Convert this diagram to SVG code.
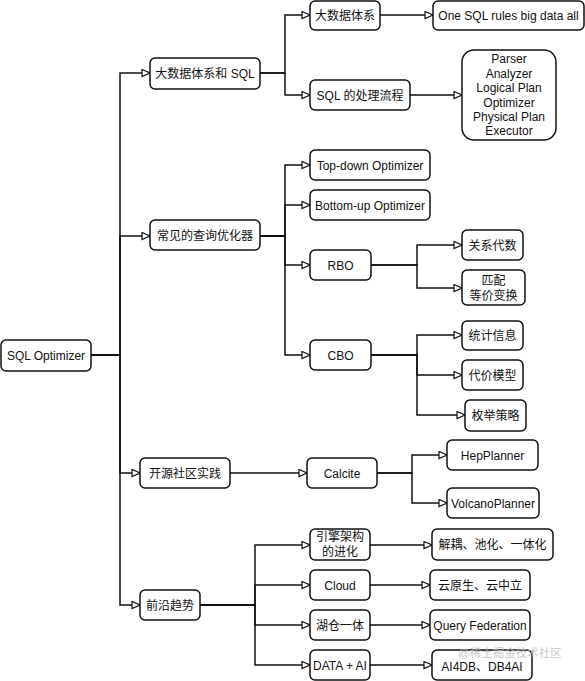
<svg xmlns="http://www.w3.org/2000/svg" width="585" height="681" viewBox="0 0 585 681">
<style>
.box{fill:#fff;stroke:#111;stroke-width:1.5}
.t{font-family:"Liberation Sans","Noto Sans CJK SC",sans-serif;font-size:12px;fill:#111;text-anchor:middle}
.c{fill:none;stroke:#111;stroke-width:1.5;marker-end:url(#arr)}
.wm{font-family:"Liberation Sans","Noto Sans CJK SC",sans-serif;font-size:11.5px;fill:#bbb;opacity:0.8}
</style>
<defs>
<marker id="arr" markerUnits="userSpaceOnUse" markerWidth="10" markerHeight="10" refX="9" refY="4" orient="auto">
<path d="M1,0.5 L9,4 L1,7.5 Z" fill="#fff" stroke="#111" stroke-width="1.2"/>
</marker>
</defs>
<rect width="585" height="681" fill="#fff"/>
<g id="connectors">
<path class="c" d="M91,355 H120 V73 H150"/>
<path class="c" d="M91,355 H120 V236 H150"/>
<path class="c" d="M91,355 H120 V473 H140"/>
<path class="c" d="M91,355 H120 V605 H140"/>
<path class="c" d="M260,73 H285 V15 H310"/>
<path class="c" d="M260,73 H285 V95 H310"/>
<path class="c" d="M380,15 H433"/>
<path class="c" d="M410,95 H462"/>
<path class="c" d="M260,236 H285 V165 H310"/>
<path class="c" d="M260,236 H285 V205 H310"/>
<path class="c" d="M260,236 H285 V265 H310"/>
<path class="c" d="M260,236 H285 V355 H310"/>
<path class="c" d="M371,265 H417 V245 H462"/>
<path class="c" d="M371,265 H417 V288 H462"/>
<path class="c" d="M371,355 H417 V335 H462"/>
<path class="c" d="M371,355 H417 V375 H462"/>
<path class="c" d="M371,355 H417 V415 H465"/>
<path class="c" d="M230,473 H307"/>
<path class="c" d="M377,473 H412 V455 H447"/>
<path class="c" d="M377,473 H412 V503 H447"/>
<path class="c" d="M200,605 H255 V545 H310"/>
<path class="c" d="M200,605 H255 V585 H310"/>
<path class="c" d="M200,605 H255 V625 H310"/>
<path class="c" d="M200,605 H255 V665 H310"/>
<path class="c" d="M370,545 H432"/>
<path class="c" d="M370,585 H430"/>
<path class="c" d="M370,625 H430"/>
<path class="c" d="M370,665 H432"/>
</g>
<g id="n-root"><rect class="box" x="1" y="340" width="90" height="31" rx="5"/><text class="t" x="46" y="359.5">SQL Optimizer</text></g>
<g id="n-bigdata-sql"><rect class="box" x="150" y="58" width="110" height="31" rx="5"/><text class="t" x="205" y="77.5">大数据体系和 SQL</text></g>
<g id="n-common"><rect class="box" x="150" y="220" width="110" height="30" rx="5"/><text class="t" x="205" y="240">常见的查询优化器</text></g>
<g id="n-oss"><rect class="box" x="140" y="458" width="90" height="30" rx="5"/><text class="t" x="185" y="477.5">开源社区实践</text></g>
<g id="n-trend"><rect class="box" x="140" y="590" width="60" height="30" rx="5"/><text class="t" x="170" y="609.5">前沿趋势</text></g>
<g id="n-bigdata"><rect class="box" x="310" y="1" width="70" height="29" rx="5"/><text class="t" x="345" y="19.5">大数据体系</text></g>
<g id="n-onesql"><rect class="box" x="433" y="1" width="151" height="29" rx="5"/><text class="t" x="508.5" y="19.5">One SQL rules big data all</text></g>
<g id="n-flow"><rect class="box" x="310" y="80" width="100" height="30" rx="5"/><text class="t" x="360" y="99.5">SQL 的处理流程</text></g>
<g id="n-steps"><rect class="box" x="462" y="50" width="94" height="90" rx="12"/>
<text class="t" x="509" y="62.5">Parser</text>
<text class="t" x="509" y="77.5">Analyzer</text>
<text class="t" x="509" y="92">Logical Plan</text>
<text class="t" x="509" y="106.5">Optimizer</text>
<text class="t" x="509" y="121">Physical Plan</text>
<text class="t" x="509" y="135">Executor</text></g>
<g id="n-topdown"><rect class="box" x="310" y="150" width="120" height="30" rx="5"/><text class="t" x="370" y="169.5">Top-down Optimizer</text></g>
<g id="n-bottomup"><rect class="box" x="310" y="190" width="120" height="30" rx="5"/><text class="t" x="370" y="209.5">Bottom-up Optimizer</text></g>
<g id="n-rbo"><rect class="box" x="310" y="250" width="61" height="30" rx="5"/><text class="t" x="340.5" y="269.5">RBO</text></g>
<g id="n-cbo"><rect class="box" x="310" y="340" width="61" height="30" rx="5"/><text class="t" x="340.5" y="359.5">CBO</text></g>
<g id="n-algebra"><rect class="box" x="462" y="230" width="61" height="30" rx="5"/><text class="t" x="492.5" y="249.5">关系代数</text></g>
<g id="n-match"><rect class="box" x="462" y="270" width="63" height="35" rx="5"/><text class="t" x="493.5" y="285">匹配</text><text class="t" x="493.5" y="300">等价变换</text></g>
<g id="n-stats"><rect class="box" x="462" y="321" width="61" height="29" rx="5"/><text class="t" x="492.5" y="339.5">统计信息</text></g>
<g id="n-cost"><rect class="box" x="462" y="360" width="61" height="30" rx="5"/><text class="t" x="492.5" y="379.5">代价模型</text></g>
<g id="n-enum"><rect class="box" x="465" y="400" width="61" height="31" rx="5"/><text class="t" x="495.5" y="419.5">枚举策略</text></g>
<g id="n-calcite"><rect class="box" x="307" y="458" width="70" height="30" rx="5"/><text class="t" x="342" y="477.5">Calcite</text></g>
<g id="n-hep"><rect class="box" x="447" y="440" width="91" height="30" rx="5"/><text class="t" x="492.5" y="459.5">HepPlanner</text></g>
<g id="n-volcano"><rect class="box" x="447" y="488" width="92" height="30" rx="5"/><text class="t" x="493" y="507.5">VolcanoPlanner</text></g>
<g id="n-engine"><rect class="box" x="310" y="529" width="60" height="31" rx="5"/><text class="t" x="340" y="541">引擎架构</text><text class="t" x="340" y="556">的进化</text></g>
<g id="n-cloud"><rect class="box" x="310" y="570" width="60" height="30" rx="5"/><text class="t" x="340" y="589.5">Cloud</text></g>
<g id="n-lake"><rect class="box" x="310" y="610" width="60" height="30" rx="5"/><text class="t" x="340" y="629.5">湖仓一体</text></g>
<g id="n-dataai"><rect class="box" x="310" y="650" width="60" height="30" rx="5"/><text class="t" x="340" y="669.5">DATA + AI</text></g>
<g id="n-decouple"><rect class="box" x="432" y="529" width="121" height="31" rx="5"/><text class="t" x="492.5" y="549">解耦、池化、一体化</text></g>
<g id="n-cloudnative"><rect class="box" x="430" y="570" width="100" height="30" rx="5"/><text class="t" x="480" y="589.5">云原生、云中立</text></g>
<g id="n-federation"><rect class="box" x="430" y="610" width="100" height="30" rx="5"/><text class="t" x="480" y="629.5">Query Federation</text></g>
<g id="n-ai4db"><rect class="box" x="432" y="650" width="100" height="30" rx="5"/><text class="t" x="482" y="671">AI4DB、DB4AI</text></g>
<text class="wm" x="458" y="656.5">@稀土掘金技术社区</text>
</svg>
